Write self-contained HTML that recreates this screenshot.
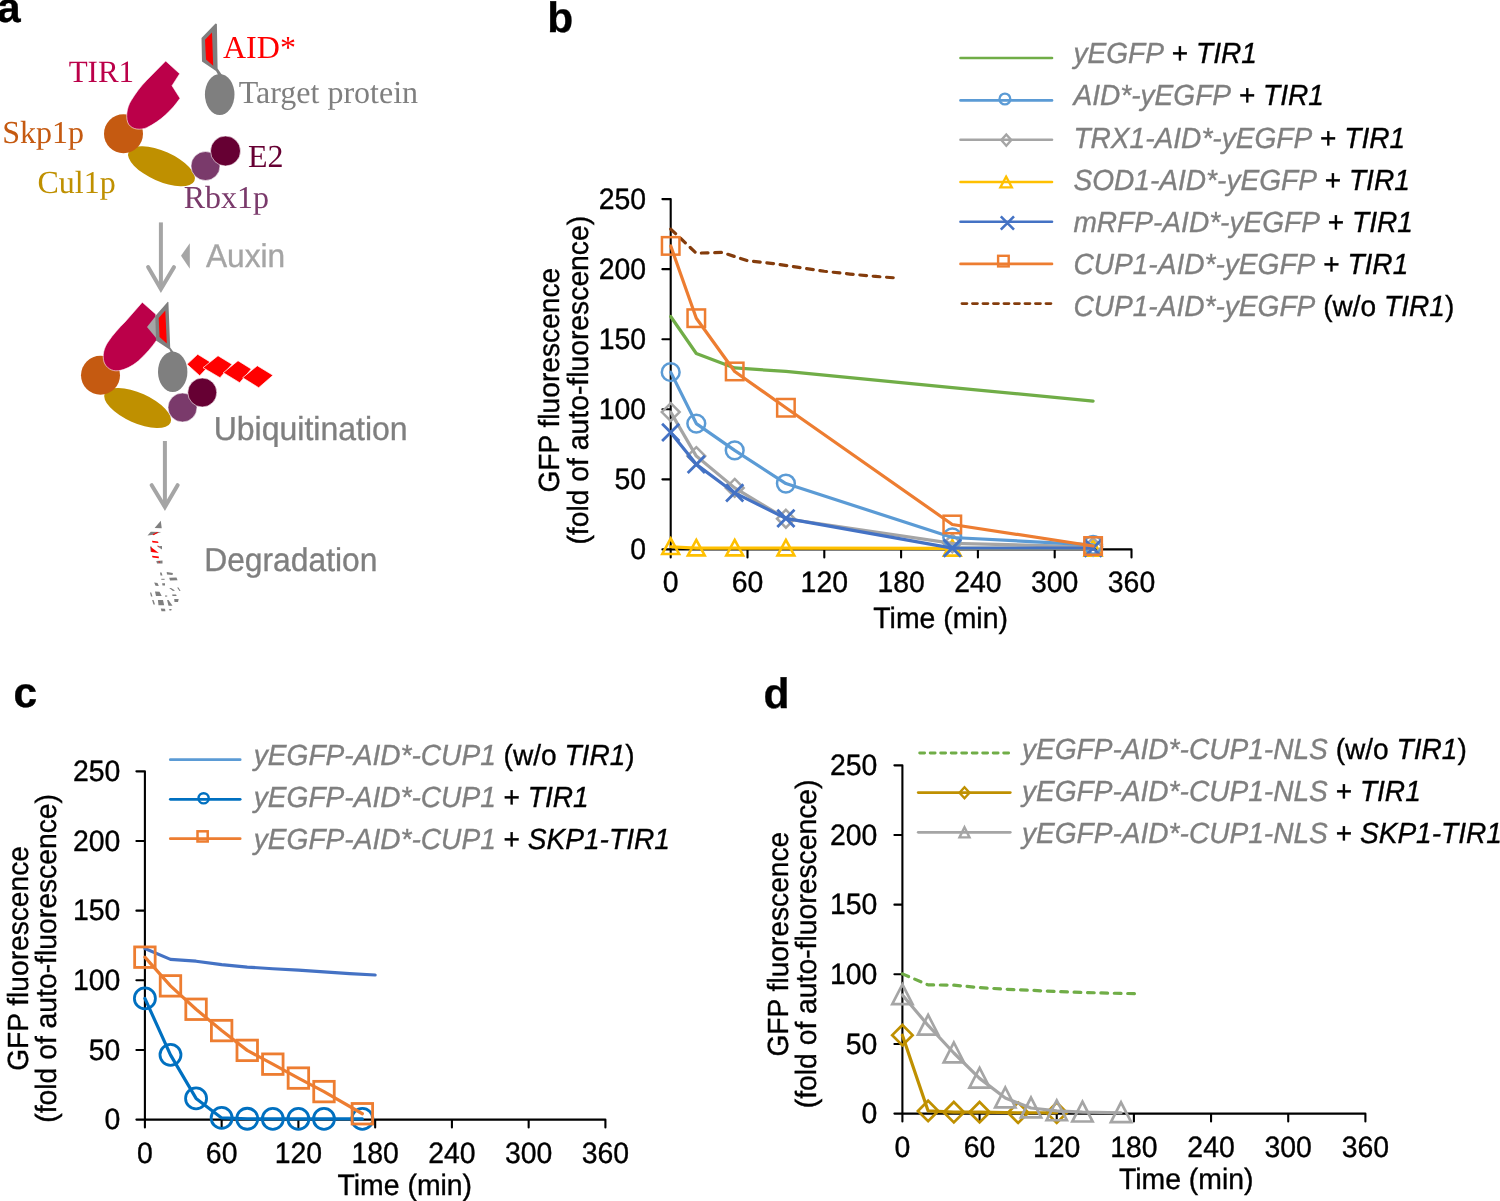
<!DOCTYPE html>
<html><head><meta charset="utf-8"><title>Figure</title>
<style>html,body{margin:0;padding:0;background:#fff;overflow:hidden;width:1500px;height:1201px;} svg{display:block;will-change:transform;} text{text-rendering:geometricPrecision;stroke-width:0.35px;}</style>
</head><body>
<svg width="1500" height="1201" viewBox="0 0 1500 1201">
<rect width="1500" height="1201" fill="#fff"/>
<text transform="translate(646.00,559.20) scale(1,1.035)" font-size="28.4" fill="#000" text-anchor="end" stroke="#000" font-family='"Liberation Sans", sans-serif'>0</text>
<text transform="translate(646.00,489.14) scale(1,1.035)" font-size="28.4" fill="#000" text-anchor="end" stroke="#000" font-family='"Liberation Sans", sans-serif'>50</text>
<text transform="translate(646.00,419.08) scale(1,1.035)" font-size="28.4" fill="#000" text-anchor="end" stroke="#000" font-family='"Liberation Sans", sans-serif'>100</text>
<text transform="translate(646.00,349.02) scale(1,1.035)" font-size="28.4" fill="#000" text-anchor="end" stroke="#000" font-family='"Liberation Sans", sans-serif'>150</text>
<text transform="translate(646.00,278.96) scale(1,1.035)" font-size="28.4" fill="#000" text-anchor="end" stroke="#000" font-family='"Liberation Sans", sans-serif'>200</text>
<text transform="translate(646.00,208.90) scale(1,1.035)" font-size="28.4" fill="#000" text-anchor="end" stroke="#000" font-family='"Liberation Sans", sans-serif'>250</text>
<text transform="translate(670.70,592.40) scale(1,1.035)" font-size="28.4" fill="#000" text-anchor="middle" stroke="#000" font-family='"Liberation Sans", sans-serif'>0</text>
<text transform="translate(747.50,592.40) scale(1,1.035)" font-size="28.4" fill="#000" text-anchor="middle" stroke="#000" font-family='"Liberation Sans", sans-serif'>60</text>
<text transform="translate(824.30,592.40) scale(1,1.035)" font-size="28.4" fill="#000" text-anchor="middle" stroke="#000" font-family='"Liberation Sans", sans-serif'>120</text>
<text transform="translate(901.10,592.40) scale(1,1.035)" font-size="28.4" fill="#000" text-anchor="middle" stroke="#000" font-family='"Liberation Sans", sans-serif'>180</text>
<text transform="translate(977.90,592.40) scale(1,1.035)" font-size="28.4" fill="#000" text-anchor="middle" stroke="#000" font-family='"Liberation Sans", sans-serif'>240</text>
<text transform="translate(1054.70,592.40) scale(1,1.035)" font-size="28.4" fill="#000" text-anchor="middle" stroke="#000" font-family='"Liberation Sans", sans-serif'>300</text>
<text transform="translate(1131.50,592.40) scale(1,1.035)" font-size="28.4" fill="#000" text-anchor="middle" stroke="#000" font-family='"Liberation Sans", sans-serif'>360</text>
<path d="M662.40,199.10H670.70V549.40M662.40,549.40H1131.50V557.40M662.40,479.34H670.70M662.40,409.28H670.70M662.40,339.22H670.70M662.40,269.16H670.70M670.70,549.40V557.40M747.50,549.40V557.40M824.30,549.40V557.40M901.10,549.40V557.40M977.90,549.40V557.40M1054.70,549.40V557.40" stroke="#000" stroke-width="2.1" stroke-linecap="round" stroke-linejoin="round" fill="none"/>
<text transform="translate(559.40,380.25) rotate(-90) scale(1,1.035)" stroke="#000" font-size="28.15" text-anchor="middle" font-family='"Liberation Sans", sans-serif'>GFP fluorescence</text><text transform="translate(587.60,380.20) rotate(-90) scale(1,1.035)" stroke="#000" font-size="28.3" text-anchor="middle" font-family='"Liberation Sans", sans-serif'>(fold of auto-fluorescence)</text>
<text transform="translate(873.30,627.90) scale(1,1.035)" font-size="28.4" fill="#000" stroke="#000" font-family='"Liberation Sans", sans-serif'>Time (min)</text>
<polyline points="670.70,316.52 696.30,353.51 734.70,367.94 785.90,371.45 952.30,387.56 1093.10,401.15" fill="none" stroke="#70AD47" stroke-width="3.2" stroke-linejoin="round" stroke-linecap="round"/>
<polyline points="670.70,229.09 696.30,253.19 721.90,252.35 747.50,260.75 773.10,263.56 798.70,267.34 824.30,271.26 849.90,274.06 875.50,276.45 898.54,278.13" fill="none" stroke="#843C0C" stroke-width="3.2" stroke-linejoin="round" stroke-linecap="round" stroke-dasharray="6.7,6.7"/>
<polyline points="670.70,546.74 696.30,548.14 734.70,548.14 785.90,548.14 952.30,548.42 1093.10,548.42" fill="none" stroke="#FFC000" stroke-width="3.2" stroke-linejoin="round" stroke-linecap="round"/>
<polygon points="670.70,538.49 679.10,553.99 662.30,553.99" fill="none" stroke="#FFC000" stroke-width="2.6" stroke-linejoin="miter"/>
<polygon points="696.30,539.89 704.70,555.39 687.90,555.39" fill="none" stroke="#FFC000" stroke-width="2.6" stroke-linejoin="miter"/>
<polygon points="734.70,539.89 743.10,555.39 726.30,555.39" fill="none" stroke="#FFC000" stroke-width="2.6" stroke-linejoin="miter"/>
<polygon points="785.90,539.89 794.30,555.39 777.50,555.39" fill="none" stroke="#FFC000" stroke-width="2.6" stroke-linejoin="miter"/>
<polygon points="952.30,540.17 960.70,555.67 943.90,555.67" fill="none" stroke="#FFC000" stroke-width="2.6" stroke-linejoin="miter"/>
<polygon points="1093.10,540.17 1101.50,555.67 1084.70,555.67" fill="none" stroke="#FFC000" stroke-width="2.6" stroke-linejoin="miter"/>
<polyline points="670.70,412.08 696.30,456.08 734.70,487.89 785.90,518.71 952.30,543.37 1093.10,546.74" fill="none" stroke="#A5A5A5" stroke-width="3.2" stroke-linejoin="round" stroke-linecap="round"/>
<polygon points="670.70,403.18 679.60,412.08 670.70,420.98 661.80,412.08" fill="none" stroke="#A5A5A5" stroke-width="2.5" stroke-linejoin="miter"/>
<polygon points="696.30,447.18 705.20,456.08 696.30,464.98 687.40,456.08" fill="none" stroke="#A5A5A5" stroke-width="2.5" stroke-linejoin="miter"/>
<polygon points="734.70,478.99 743.60,487.89 734.70,496.79 725.80,487.89" fill="none" stroke="#A5A5A5" stroke-width="2.5" stroke-linejoin="miter"/>
<polygon points="785.90,509.81 794.80,518.71 785.90,527.61 777.00,518.71" fill="none" stroke="#A5A5A5" stroke-width="2.5" stroke-linejoin="miter"/>
<polygon points="952.30,534.47 961.20,543.37 952.30,552.27 943.40,543.37" fill="none" stroke="#A5A5A5" stroke-width="2.5" stroke-linejoin="miter"/>
<polygon points="1093.10,537.84 1102.00,546.74 1093.10,555.64 1084.20,546.74" fill="none" stroke="#A5A5A5" stroke-width="2.5" stroke-linejoin="miter"/>
<polyline points="670.70,372.15 696.30,423.57 734.70,450.34 785.90,483.54 952.30,537.49 1093.10,544.78" fill="none" stroke="#5B9BD5" stroke-width="3.2" stroke-linejoin="round" stroke-linecap="round"/>
<circle cx="670.70" cy="372.15" r="8.9" fill="none" stroke="#5B9BD5" stroke-width="2.5"/>
<circle cx="696.30" cy="423.57" r="8.9" fill="none" stroke="#5B9BD5" stroke-width="2.5"/>
<circle cx="734.70" cy="450.34" r="8.9" fill="none" stroke="#5B9BD5" stroke-width="2.5"/>
<circle cx="785.90" cy="483.54" r="8.9" fill="none" stroke="#5B9BD5" stroke-width="2.5"/>
<circle cx="952.30" cy="537.49" r="8.9" fill="none" stroke="#5B9BD5" stroke-width="2.5"/>
<circle cx="1093.10" cy="544.78" r="8.9" fill="none" stroke="#5B9BD5" stroke-width="2.5"/>
<polyline points="670.70,432.40 696.30,464.35 734.70,492.93 785.90,518.43 952.30,548.14 1093.10,548.14" fill="none" stroke="#4472C4" stroke-width="3.2" stroke-linejoin="round" stroke-linecap="round"/>
<path d="M662.10,423.80L679.30,441.00M662.10,441.00L679.30,423.80" stroke="#4472C4" stroke-width="2.8" fill="none"/>
<path d="M687.70,455.75L704.90,472.95M687.70,472.95L704.90,455.75" stroke="#4472C4" stroke-width="2.8" fill="none"/>
<path d="M726.10,484.33L743.30,501.53M726.10,501.53L743.30,484.33" stroke="#4472C4" stroke-width="2.8" fill="none"/>
<path d="M777.30,509.83L794.50,527.03M777.30,527.03L794.50,509.83" stroke="#4472C4" stroke-width="2.8" fill="none"/>
<path d="M943.70,539.54L960.90,556.74M943.70,556.74L960.90,539.54" stroke="#4472C4" stroke-width="2.8" fill="none"/>
<path d="M1084.50,539.54L1101.70,556.74M1084.50,556.74L1101.70,539.54" stroke="#4472C4" stroke-width="2.8" fill="none"/>
<polyline points="670.70,245.90 696.30,318.20 734.70,371.45 785.90,407.74 952.30,524.46 1093.10,546.04" fill="none" stroke="#ED7D31" stroke-width="3.2" stroke-linejoin="round" stroke-linecap="round"/>
<rect x="661.95" y="237.15" width="17.5" height="17.5" fill="none" stroke="#ED7D31" stroke-width="2.5"/>
<rect x="687.55" y="309.45" width="17.5" height="17.5" fill="none" stroke="#ED7D31" stroke-width="2.5"/>
<rect x="725.95" y="362.70" width="17.5" height="17.5" fill="none" stroke="#ED7D31" stroke-width="2.5"/>
<rect x="777.15" y="398.99" width="17.5" height="17.5" fill="none" stroke="#ED7D31" stroke-width="2.5"/>
<rect x="943.55" y="515.71" width="17.5" height="17.5" fill="none" stroke="#ED7D31" stroke-width="2.5"/>
<rect x="1084.35" y="537.29" width="17.5" height="17.5" fill="none" stroke="#ED7D31" stroke-width="2.5"/>
<path d="M960.5,58.0H1052.0" stroke="#70AD47" stroke-width="2.6" stroke-linecap="round" fill="none"/>
<text transform="translate(1073.40,63.20) scale(1,1.035)" font-size="28.1" fill="#000" stroke="#000" font-family='"Liberation Sans", sans-serif' xml:space="preserve"><tspan font-style="italic" fill="#7F7F7F" stroke="#7F7F7F">yEGFP</tspan><tspan> + </tspan><tspan font-style="italic">TIR1</tspan></text>
<path d="M960.5,100.4H1052.0" stroke="#5B9BD5" stroke-width="2.6" stroke-linecap="round" fill="none"/>
<circle cx="1004.90" cy="99.00" r="5.4" fill="none" stroke="#5B9BD5" stroke-width="2.3"/>
<text transform="translate(1073.40,105.20) scale(1,1.035)" font-size="28.1" fill="#000" stroke="#000" font-family='"Liberation Sans", sans-serif' xml:space="preserve"><tspan font-style="italic" fill="#7F7F7F" stroke="#7F7F7F">AID*-yEGFP</tspan><tspan> + </tspan><tspan font-style="italic">TIR1</tspan></text>
<path d="M960.5,139.7H1052.0" stroke="#A5A5A5" stroke-width="2.6" stroke-linecap="round" fill="none"/>
<polygon points="1006.30,134.50 1011.30,140.10 1006.30,145.70 1001.30,140.10" fill="none" stroke="#A5A5A5" stroke-width="2.4" stroke-linejoin="miter"/>
<text transform="translate(1073.40,147.50) scale(1,1.035)" font-size="28.1" fill="#000" stroke="#000" font-family='"Liberation Sans", sans-serif' xml:space="preserve"><tspan font-style="italic" fill="#7F7F7F" stroke="#7F7F7F">TRX1-AID*-yEGFP</tspan><tspan> + </tspan><tspan font-style="italic">TIR1</tspan></text>
<path d="M960.5,182.0H1052.0" stroke="#FFC000" stroke-width="2.6" stroke-linecap="round" fill="none"/>
<polygon points="1006.10,176.60 1011.85,187.40 1000.35,187.40" fill="none" stroke="#FFC000" stroke-width="2.3" stroke-linejoin="miter"/>
<text transform="translate(1073.40,189.60) scale(1,1.035)" font-size="28.1" fill="#000" stroke="#000" font-family='"Liberation Sans", sans-serif' xml:space="preserve"><tspan font-style="italic" fill="#7F7F7F" stroke="#7F7F7F">SOD1-AID*-yEGFP</tspan><tspan> + </tspan><tspan font-style="italic">TIR1</tspan></text>
<path d="M960.5,221.7H1052.0" stroke="#4472C4" stroke-width="2.6" stroke-linecap="round" fill="none"/>
<path d="M1000.80,216.40L1014.00,229.60M1000.80,229.60L1014.00,216.40" stroke="#4472C4" stroke-width="2.6" fill="none"/>
<text transform="translate(1073.40,232.00) scale(1,1.035)" font-size="28.1" fill="#000" stroke="#000" font-family='"Liberation Sans", sans-serif' xml:space="preserve"><tspan font-style="italic" fill="#7F7F7F" stroke="#7F7F7F">mRFP-AID*-yEGFP</tspan><tspan> + </tspan><tspan font-style="italic">TIR1</tspan></text>
<path d="M960.5,263.9H1052.0" stroke="#ED7D31" stroke-width="2.6" stroke-linecap="round" fill="none"/>
<rect x="998.10" y="255.80" width="10.6" height="10.6" fill="none" stroke="#ED7D31" stroke-width="2.4"/>
<text transform="translate(1073.40,273.80) scale(1,1.035)" font-size="28.1" fill="#000" stroke="#000" font-family='"Liberation Sans", sans-serif' xml:space="preserve"><tspan font-style="italic" fill="#7F7F7F" stroke="#7F7F7F">CUP1-AID*-yEGFP</tspan><tspan> + </tspan><tspan font-style="italic">TIR1</tspan></text>
<path d="M962.0,303.6H1052.0" stroke="#843C0C" stroke-width="2.9" stroke-linecap="round" stroke-dasharray="4.9,5.6" fill="none"/>
<text transform="translate(1073.40,315.80) scale(1,1.035)" font-size="28.1" fill="#000" stroke="#000" font-family='"Liberation Sans", sans-serif' xml:space="preserve"><tspan font-style="italic" fill="#7F7F7F" stroke="#7F7F7F">CUP1-AID*-yEGFP</tspan><tspan> (w/o </tspan><tspan font-style="italic">TIR1</tspan><tspan>)</tspan></text>
<text transform="translate(120.30,1129.40) scale(1,1.035)" font-size="28.4" fill="#000" text-anchor="end" stroke="#000" font-family='"Liberation Sans", sans-serif'>0</text>
<text transform="translate(120.30,1059.75) scale(1,1.035)" font-size="28.4" fill="#000" text-anchor="end" stroke="#000" font-family='"Liberation Sans", sans-serif'>50</text>
<text transform="translate(120.30,990.10) scale(1,1.035)" font-size="28.4" fill="#000" text-anchor="end" stroke="#000" font-family='"Liberation Sans", sans-serif'>100</text>
<text transform="translate(120.30,920.45) scale(1,1.035)" font-size="28.4" fill="#000" text-anchor="end" stroke="#000" font-family='"Liberation Sans", sans-serif'>150</text>
<text transform="translate(120.30,850.80) scale(1,1.035)" font-size="28.4" fill="#000" text-anchor="end" stroke="#000" font-family='"Liberation Sans", sans-serif'>200</text>
<text transform="translate(120.30,781.15) scale(1,1.035)" font-size="28.4" fill="#000" text-anchor="end" stroke="#000" font-family='"Liberation Sans", sans-serif'>250</text>
<text transform="translate(144.90,1162.60) scale(1,1.035)" font-size="28.4" fill="#000" text-anchor="middle" stroke="#000" font-family='"Liberation Sans", sans-serif'>0</text>
<text transform="translate(221.65,1162.60) scale(1,1.035)" font-size="28.4" fill="#000" text-anchor="middle" stroke="#000" font-family='"Liberation Sans", sans-serif'>60</text>
<text transform="translate(298.40,1162.60) scale(1,1.035)" font-size="28.4" fill="#000" text-anchor="middle" stroke="#000" font-family='"Liberation Sans", sans-serif'>120</text>
<text transform="translate(375.16,1162.60) scale(1,1.035)" font-size="28.4" fill="#000" text-anchor="middle" stroke="#000" font-family='"Liberation Sans", sans-serif'>180</text>
<text transform="translate(451.91,1162.60) scale(1,1.035)" font-size="28.4" fill="#000" text-anchor="middle" stroke="#000" font-family='"Liberation Sans", sans-serif'>240</text>
<text transform="translate(528.66,1162.60) scale(1,1.035)" font-size="28.4" fill="#000" text-anchor="middle" stroke="#000" font-family='"Liberation Sans", sans-serif'>300</text>
<text transform="translate(605.41,1162.60) scale(1,1.035)" font-size="28.4" fill="#000" text-anchor="middle" stroke="#000" font-family='"Liberation Sans", sans-serif'>360</text>
<path d="M136.40,771.35H144.90V1119.60M136.40,1119.60H605.41V1127.40M136.40,1049.95H144.90M136.40,980.30H144.90M136.40,910.65H144.90M136.40,841.00H144.90M144.90,1119.60V1127.40M221.65,1119.60V1127.40M298.40,1119.60V1127.40M375.16,1119.60V1127.40M451.91,1119.60V1127.40M528.66,1119.60V1127.40" stroke="#000" stroke-width="2.1" stroke-linecap="round" stroke-linejoin="round" fill="none"/>
<text transform="translate(28.10,958.50) rotate(-90) scale(1,1.035)" stroke="#000" font-size="28.15" text-anchor="middle" font-family='"Liberation Sans", sans-serif'>GFP fluorescence</text><text transform="translate(56.00,958.40) rotate(-90) scale(1,1.035)" stroke="#000" font-size="28.3" text-anchor="middle" font-family='"Liberation Sans", sans-serif'>(fold of auto-fluorescence)</text>
<text transform="translate(337.50,1195.00) scale(1,1.035)" font-size="28.4" fill="#000" stroke="#000" font-family='"Liberation Sans", sans-serif'>Time (min)</text>
<polyline points="144.90,948.54 170.48,959.40 196.07,961.22 221.65,964.56 247.24,967.07 272.82,968.74 298.40,970.13 323.99,971.94 349.57,973.61 375.16,975.01" fill="none" stroke="#4472C4" stroke-width="3.2" stroke-linejoin="round" stroke-linecap="round"/>
<polyline points="144.90,998.41 170.48,1054.83 196.07,1098.43 221.65,1117.93 247.24,1118.76 272.82,1118.90 298.40,1118.90 323.99,1118.90 362.36,1118.90" fill="none" stroke="#0070C0" stroke-width="3.2" stroke-linejoin="round" stroke-linecap="round"/>
<circle cx="144.90" cy="998.41" r="10.5" fill="none" stroke="#0070C0" stroke-width="2.8"/>
<circle cx="170.48" cy="1054.83" r="10.5" fill="none" stroke="#0070C0" stroke-width="2.8"/>
<circle cx="196.07" cy="1098.43" r="10.5" fill="none" stroke="#0070C0" stroke-width="2.8"/>
<circle cx="221.65" cy="1117.93" r="10.5" fill="none" stroke="#0070C0" stroke-width="2.8"/>
<circle cx="247.24" cy="1118.76" r="10.5" fill="none" stroke="#0070C0" stroke-width="2.8"/>
<circle cx="272.82" cy="1118.90" r="10.5" fill="none" stroke="#0070C0" stroke-width="2.8"/>
<circle cx="298.40" cy="1118.90" r="10.5" fill="none" stroke="#0070C0" stroke-width="2.8"/>
<circle cx="323.99" cy="1118.90" r="10.5" fill="none" stroke="#0070C0" stroke-width="2.8"/>
<circle cx="362.36" cy="1118.90" r="10.5" fill="none" stroke="#0070C0" stroke-width="2.8"/>
<polyline points="144.90,957.18 170.48,985.87 196.07,1009.27 221.65,1030.59 247.24,1050.37 272.82,1064.16 298.40,1078.09 323.99,1091.60 362.36,1113.75" fill="none" stroke="#ED7D31" stroke-width="3.2" stroke-linejoin="round" stroke-linecap="round"/>
<rect x="134.65" y="946.93" width="20.5" height="20.5" fill="none" stroke="#ED7D31" stroke-width="2.8"/>
<rect x="160.23" y="975.62" width="20.5" height="20.5" fill="none" stroke="#ED7D31" stroke-width="2.8"/>
<rect x="185.82" y="999.02" width="20.5" height="20.5" fill="none" stroke="#ED7D31" stroke-width="2.8"/>
<rect x="211.40" y="1020.34" width="20.5" height="20.5" fill="none" stroke="#ED7D31" stroke-width="2.8"/>
<rect x="236.99" y="1040.12" width="20.5" height="20.5" fill="none" stroke="#ED7D31" stroke-width="2.8"/>
<rect x="262.57" y="1053.91" width="20.5" height="20.5" fill="none" stroke="#ED7D31" stroke-width="2.8"/>
<rect x="288.15" y="1067.84" width="20.5" height="20.5" fill="none" stroke="#ED7D31" stroke-width="2.8"/>
<rect x="313.74" y="1081.35" width="20.5" height="20.5" fill="none" stroke="#ED7D31" stroke-width="2.8"/>
<rect x="352.11" y="1103.50" width="20.5" height="20.5" fill="none" stroke="#ED7D31" stroke-width="2.8"/>
<path d="M170.3,759.7H240.2" stroke="#5B9BD5" stroke-width="2.7" stroke-linecap="round" fill="none"/>
<text transform="translate(253.80,764.60) scale(1,1.035)" font-size="28.1" fill="#000" stroke="#000" font-family='"Liberation Sans", sans-serif' xml:space="preserve"><tspan font-style="italic" fill="#7F7F7F" stroke="#7F7F7F">yEGFP-AID*-CUP1</tspan><tspan> (w/o </tspan><tspan font-style="italic">TIR1</tspan><tspan>)</tspan></text>
<path d="M170.3,799.3H240.2" stroke="#0070C0" stroke-width="2.7" stroke-linecap="round" fill="none"/>
<circle cx="203.60" cy="798.30" r="5.1" fill="none" stroke="#0070C0" stroke-width="2.4"/>
<text transform="translate(253.80,806.80) scale(1,1.035)" font-size="28.1" fill="#000" stroke="#000" font-family='"Liberation Sans", sans-serif' xml:space="preserve"><tspan font-style="italic" fill="#7F7F7F" stroke="#7F7F7F">yEGFP-AID*-CUP1</tspan><tspan> + </tspan><tspan font-style="italic">TIR1</tspan></text>
<path d="M170.3,838.7H240.2" stroke="#ED7D31" stroke-width="2.7" stroke-linecap="round" fill="none"/>
<rect x="197.50" y="831.30" width="10.2" height="10.2" fill="none" stroke="#ED7D31" stroke-width="2.5"/>
<text transform="translate(253.80,849.00) scale(1,1.035)" font-size="28.1" fill="#000" stroke="#000" font-family='"Liberation Sans", sans-serif' xml:space="preserve"><tspan font-style="italic" fill="#7F7F7F" stroke="#7F7F7F">yEGFP-AID*-CUP1</tspan><tspan> + </tspan><tspan font-style="italic">SKP1-TIR1</tspan></text>
<text transform="translate(877.30,1123.40) scale(1,1.035)" font-size="28.4" fill="#000" text-anchor="end" stroke="#000" font-family='"Liberation Sans", sans-serif'>0</text>
<text transform="translate(877.30,1053.75) scale(1,1.035)" font-size="28.4" fill="#000" text-anchor="end" stroke="#000" font-family='"Liberation Sans", sans-serif'>50</text>
<text transform="translate(877.30,984.10) scale(1,1.035)" font-size="28.4" fill="#000" text-anchor="end" stroke="#000" font-family='"Liberation Sans", sans-serif'>100</text>
<text transform="translate(877.30,914.45) scale(1,1.035)" font-size="28.4" fill="#000" text-anchor="end" stroke="#000" font-family='"Liberation Sans", sans-serif'>150</text>
<text transform="translate(877.30,844.80) scale(1,1.035)" font-size="28.4" fill="#000" text-anchor="end" stroke="#000" font-family='"Liberation Sans", sans-serif'>200</text>
<text transform="translate(877.30,775.15) scale(1,1.035)" font-size="28.4" fill="#000" text-anchor="end" stroke="#000" font-family='"Liberation Sans", sans-serif'>250</text>
<text transform="translate(902.40,1156.60) scale(1,1.035)" font-size="28.4" fill="#000" text-anchor="middle" stroke="#000" font-family='"Liberation Sans", sans-serif'>0</text>
<text transform="translate(979.57,1156.60) scale(1,1.035)" font-size="28.4" fill="#000" text-anchor="middle" stroke="#000" font-family='"Liberation Sans", sans-serif'>60</text>
<text transform="translate(1056.73,1156.60) scale(1,1.035)" font-size="28.4" fill="#000" text-anchor="middle" stroke="#000" font-family='"Liberation Sans", sans-serif'>120</text>
<text transform="translate(1133.90,1156.60) scale(1,1.035)" font-size="28.4" fill="#000" text-anchor="middle" stroke="#000" font-family='"Liberation Sans", sans-serif'>180</text>
<text transform="translate(1211.06,1156.60) scale(1,1.035)" font-size="28.4" fill="#000" text-anchor="middle" stroke="#000" font-family='"Liberation Sans", sans-serif'>240</text>
<text transform="translate(1288.23,1156.60) scale(1,1.035)" font-size="28.4" fill="#000" text-anchor="middle" stroke="#000" font-family='"Liberation Sans", sans-serif'>300</text>
<text transform="translate(1365.40,1156.60) scale(1,1.035)" font-size="28.4" fill="#000" text-anchor="middle" stroke="#000" font-family='"Liberation Sans", sans-serif'>360</text>
<path d="M894.40,765.35H902.40V1113.60M894.40,1113.60H1365.40V1121.50M894.40,1043.95H902.40M894.40,974.30H902.40M894.40,904.65H902.40M894.40,835.00H902.40M902.40,1113.60V1121.50M979.57,1113.60V1121.50M1056.73,1113.60V1121.50M1133.90,1113.60V1121.50M1211.06,1113.60V1121.50M1288.23,1113.60V1121.50" stroke="#000" stroke-width="2.1" stroke-linecap="round" stroke-linejoin="round" fill="none"/>
<text transform="translate(788.20,944.20) rotate(-90) scale(1,1.035)" stroke="#000" font-size="28.15" text-anchor="middle" font-family='"Liberation Sans", sans-serif'>GFP fluorescence</text><text transform="translate(816.00,943.90) rotate(-90) scale(1,1.035)" stroke="#000" font-size="28.3" text-anchor="middle" font-family='"Liberation Sans", sans-serif'>(fold of auto-fluorescence)</text>
<text transform="translate(1118.90,1188.90) scale(1,1.035)" font-size="28.4" fill="#000" stroke="#000" font-family='"Liberation Sans", sans-serif'>Time (min)</text>
<polyline points="902.40,973.88 928.12,984.89 953.84,985.17 979.57,987.67 1005.29,989.21 1031.01,990.32 1056.73,991.57 1082.45,992.41 1108.18,993.11 1135.18,993.66" fill="none" stroke="#70AD47" stroke-width="3.2" stroke-linejoin="round" stroke-linecap="round" stroke-dasharray="6.7,6.7"/>
<polyline points="902.40,1035.17 928.12,1110.95 953.84,1112.21 979.57,1112.21 1018.15,1112.76 1056.73,1112.76" fill="none" stroke="#BF9000" stroke-width="3.2" stroke-linejoin="round" stroke-linecap="round"/>
<polygon points="902.40,1024.97 912.60,1035.17 902.40,1045.37 892.20,1035.17" fill="none" stroke="#BF9000" stroke-width="2.7" stroke-linejoin="miter"/>
<polygon points="928.12,1100.75 938.32,1110.95 928.12,1121.15 917.92,1110.95" fill="none" stroke="#BF9000" stroke-width="2.7" stroke-linejoin="miter"/>
<polygon points="953.84,1102.01 964.04,1112.21 953.84,1122.41 943.64,1112.21" fill="none" stroke="#BF9000" stroke-width="2.7" stroke-linejoin="miter"/>
<polygon points="979.57,1102.01 989.77,1112.21 979.57,1122.41 969.37,1112.21" fill="none" stroke="#BF9000" stroke-width="2.7" stroke-linejoin="miter"/>
<polygon points="1018.15,1102.56 1028.35,1112.76 1018.15,1122.96 1007.95,1112.76" fill="none" stroke="#BF9000" stroke-width="2.7" stroke-linejoin="miter"/>
<polygon points="1056.73,1102.56 1066.93,1112.76 1056.73,1122.96 1046.53,1112.76" fill="none" stroke="#BF9000" stroke-width="2.7" stroke-linejoin="miter"/>
<polyline points="902.40,994.92 928.12,1025.42 953.84,1053.00 979.57,1078.36 1005.29,1098.00 1031.01,1108.03 1056.73,1110.95 1082.45,1112.21 1121.04,1112.76" fill="none" stroke="#A5A5A5" stroke-width="3.2" stroke-linejoin="round" stroke-linecap="round"/>
<polygon points="902.40,984.42 912.55,1004.22 892.25,1004.22" fill="none" stroke="#A5A5A5" stroke-width="2.7" stroke-linejoin="miter"/>
<polygon points="928.12,1014.92 938.27,1034.72 917.97,1034.72" fill="none" stroke="#A5A5A5" stroke-width="2.7" stroke-linejoin="miter"/>
<polygon points="953.84,1042.50 963.99,1062.30 943.69,1062.30" fill="none" stroke="#A5A5A5" stroke-width="2.7" stroke-linejoin="miter"/>
<polygon points="979.57,1067.86 989.72,1087.66 969.42,1087.66" fill="none" stroke="#A5A5A5" stroke-width="2.7" stroke-linejoin="miter"/>
<polygon points="1005.29,1087.50 1015.44,1107.30 995.14,1107.30" fill="none" stroke="#A5A5A5" stroke-width="2.7" stroke-linejoin="miter"/>
<polygon points="1031.01,1097.53 1041.16,1117.33 1020.86,1117.33" fill="none" stroke="#A5A5A5" stroke-width="2.7" stroke-linejoin="miter"/>
<polygon points="1056.73,1100.45 1066.88,1120.25 1046.58,1120.25" fill="none" stroke="#A5A5A5" stroke-width="2.7" stroke-linejoin="miter"/>
<polygon points="1082.45,1101.71 1092.60,1121.51 1072.30,1121.51" fill="none" stroke="#A5A5A5" stroke-width="2.7" stroke-linejoin="miter"/>
<polygon points="1121.04,1102.26 1131.19,1122.06 1110.89,1122.06" fill="none" stroke="#A5A5A5" stroke-width="2.7" stroke-linejoin="miter"/>
<path d="M919.7,753.0H1010.3" stroke="#70AD47" stroke-width="2.9" stroke-linecap="round" stroke-dasharray="4.9,5.6" fill="none"/>
<text transform="translate(1021.90,759.00) scale(1,1.035)" font-size="28.1" fill="#000" stroke="#000" font-family='"Liberation Sans", sans-serif' xml:space="preserve"><tspan font-style="italic" fill="#7F7F7F" stroke="#7F7F7F">yEGFP-AID*-CUP1-NLS</tspan><tspan> (w/o </tspan><tspan font-style="italic">TIR1</tspan><tspan>)</tspan></text>
<path d="M918.2,792.6H1010.3" stroke="#BF9000" stroke-width="2.7" stroke-linecap="round" fill="none"/>
<polygon points="964.50,787.30 969.50,792.80 964.50,798.30 959.50,792.80" fill="none" stroke="#BF9000" stroke-width="2.4" stroke-linejoin="miter"/>
<text transform="translate(1021.90,801.20) scale(1,1.035)" font-size="28.1" fill="#000" stroke="#000" font-family='"Liberation Sans", sans-serif' xml:space="preserve"><tspan font-style="italic" fill="#7F7F7F" stroke="#7F7F7F">yEGFP-AID*-CUP1-NLS</tspan><tspan> + </tspan><tspan font-style="italic">TIR1</tspan></text>
<path d="M918.2,832.3H1010.3" stroke="#A5A5A5" stroke-width="2.7" stroke-linecap="round" fill="none"/>
<polygon points="964.50,827.20 969.50,837.40 959.50,837.40" fill="none" stroke="#A5A5A5" stroke-width="2.4" stroke-linejoin="miter"/>
<text transform="translate(1021.90,843.40) scale(1,1.035)" font-size="28.1" fill="#000" stroke="#000" font-family='"Liberation Sans", sans-serif' xml:space="preserve"><tspan font-style="italic" fill="#7F7F7F" stroke="#7F7F7F">yEGFP-AID*-CUP1-NLS</tspan><tspan> + </tspan><tspan font-style="italic">SKP1-TIR1</tspan></text>
<text x="-3.00" y="22.00" font-size="42.5" fill="#000" stroke="#000" font-family='"Liberation Sans", sans-serif' font-weight="bold">a</text>
<text x="547.20" y="31.60" font-size="42.5" fill="#000" stroke="#000" font-family='"Liberation Sans", sans-serif' font-weight="bold">b</text>
<text x="13.50" y="707.20" font-size="42.5" fill="#000" stroke="#000" font-family='"Liberation Sans", sans-serif' font-weight="bold">c</text>
<text x="763.50" y="708.00" font-size="42.5" fill="#000" stroke="#000" font-family='"Liberation Sans", sans-serif' font-weight="bold">d</text>
<ellipse cx="161.5" cy="166.3" rx="36" ry="15" transform="rotate(24 161.5 166.3)" fill="#BF9000"/>
<circle cx="123.5" cy="133.7" r="19.5" fill="#C55A11"/>
<path d="M165.7,61 L179.7,73.7 L172,85.7 L180,98.3 C172,110 160,121.5 146.7,127.7 C140.5,130.3 132.5,129.8 128.7,124.3 C125.3,119 126.3,108 131.3,100.3 C135.5,93.5 140.5,86.5 146.7,80.3 Z" fill="#BB0049" stroke="#fff" stroke-width="0.6"/>
<circle cx="205.5" cy="166" r="14.5" fill="#7A3A6B" stroke="#fff" stroke-width="0.6"/>
<circle cx="225.5" cy="151" r="15" fill="#660033" stroke="#fff" stroke-width="0.6"/>
<ellipse cx="219.7" cy="94.5" rx="14.8" ry="20.5" fill="#7F7F7F"/>
<polygon points="215.5,23.5 201.5,38 202,61.5 216,71 219,76.5 222,75 217.6,68.5 216.9,24" fill="#7F7F7F"/>
<polygon points="212,32.5 205,39.8 206,59.4 213.2,65.8" fill="#FF0000"/>
<text x="223.00" y="57.80" font-size="32" fill="#FF0000" font-family='"Liberation Serif", serif'>AID*</text>
<text x="68.70" y="82.20" font-size="31" fill="#BB0049" font-family='"Liberation Serif", serif'>TIR1</text>
<text x="2.20" y="142.50" font-size="32" fill="#C55A11" font-family='"Liberation Serif", serif'>Skp1p</text>
<text x="37.40" y="192.50" font-size="32" fill="#BF9000" font-family='"Liberation Serif", serif'>Cul1p</text>
<text x="238.70" y="103.30" font-size="32" fill="#7F7F7F" font-family='"Liberation Serif", serif'>Target protein</text>
<text x="247.90" y="167.10" font-size="32" fill="#660033" font-family='"Liberation Serif", serif'>E2</text>
<text x="183.70" y="208.20" font-size="32" fill="#7A3A6B" font-family='"Liberation Serif", serif'>Rbx1p</text>
<path d="M160.9,222.4V289" stroke="#A5A5A5" stroke-width="4" fill="none"/>
<path d="M148.1,267.1L160.9,289L174,267.1" stroke="#A5A5A5" stroke-width="4" fill="none" stroke-linecap="round" stroke-linejoin="miter"/>
<polygon points="181,255.8 189.8,243.3 189.8,268.8" fill="#A5A5A5"/>
<text transform="translate(205.90,267.10) scale(1,1.035)" font-size="31.7" fill="#A5A5A5" stroke="#A5A5A5" font-family='"Liberation Sans", sans-serif'>Auxin</text>
<ellipse cx="137.6" cy="408" rx="36" ry="15" transform="rotate(24 137.6 408)" fill="#BF9000"/>
<circle cx="100.5" cy="375.3" r="19.5" fill="#C55A11"/>
<path d="M142.3,302.3 L155.8,314.2 L157,339.7 C152,347 146,354 138.3,361 C131.5,366.5 125,369.8 118.3,370.7 C111.5,371.6 106,367.5 104,362 C102,355 104,348 108,342 C113,334.5 119,328 125,322 Z" fill="#BB0049" stroke="#fff" stroke-width="0.6"/>
<polygon points="147,327 156.5,315 156.5,338.4" fill="#A5A5A5"/>
<circle cx="182.5" cy="407.5" r="14.5" fill="#7A3A6B" stroke="#fff" stroke-width="0.6"/>
<circle cx="202.3" cy="392.5" r="14.5" fill="#660033" stroke="#fff" stroke-width="0.6"/>
<ellipse cx="172.7" cy="371.8" rx="14.7" ry="20.2" fill="#7F7F7F"/>
<polygon points="167.8,301.8 155.3,316 156,340.5 169.5,349.5 171,353 173.5,352 170.2,347.5 168.4,302" fill="#7F7F7F"/>
<polygon points="165.3,310.5 158.7,317.9 159.5,337 166.8,343.5" fill="#FF0000"/>
<polygon points="197.70,354.30 211.70,362.90 199.70,375.70 187.00,364.30" fill="#FF0000" stroke="#fff" stroke-width="0.7" stroke-linejoin="round"/>
<polygon points="218.00,355.70 232.00,364.30 220.00,377.70 203.00,367.70" fill="#FF0000" stroke="#fff" stroke-width="0.7" stroke-linejoin="round"/>
<polygon points="238.00,360.70 251.30,369.00 239.70,382.70 223.30,372.70" fill="#FF0000" stroke="#fff" stroke-width="0.7" stroke-linejoin="round"/>
<polygon points="257.30,365.70 273.00,375.30 258.70,387.70 242.70,377.70" fill="#FF0000" stroke="#fff" stroke-width="0.7" stroke-linejoin="round"/>
<text transform="translate(213.70,439.50) scale(1,1.035)" font-size="32" fill="#7F7F7F" stroke="#7F7F7F" font-family='"Liberation Sans", sans-serif'>Ubiquitination</text>
<path d="M164.9,441V507" stroke="#A5A5A5" stroke-width="4" fill="none"/>
<path d="M151.7,485.2L164.9,507L177.6,485.2" stroke="#A5A5A5" stroke-width="4" fill="none" stroke-linecap="round" stroke-linejoin="miter"/>
<polygon points="154.60,527.90 160.80,520.80 161.70,528.30" fill="#7F7F7F"/>
<polygon points="147.50,535.40 150.80,531.70 161.20,532.10 153.30,534.80" fill="#7F7F7F"/>
<polygon points="157.00,546.30 162.00,546.00 162.00,549.50" fill="#7F7F7F"/>
<polygon points="150.00,546.50 151.50,546.50 152.00,552.00 150.80,552.00" fill="#7F7F7F"/>
<polygon points="156.30,561.00 162.50,560.50 162.50,563.50 157.00,563.50" fill="#7F7F7F"/>
<polygon points="166.70,572.00 172.90,573.00 172.50,575.00 167.00,574.50" fill="#7F7F7F"/>
<polygon points="160.00,572.50 161.50,572.50 162.50,575.50 160.50,575.50" fill="#7F7F7F"/>
<polygon points="169.20,577.80 176.50,577.50 177.50,580.20 170.00,580.50" fill="#7F7F7F"/>
<polygon points="161.30,578.80 164.60,578.80 164.60,579.80 161.30,579.80" fill="#7F7F7F"/>
<polygon points="154.20,582.60 157.50,583.00 158.80,586.00 155.50,585.80" fill="#7F7F7F"/>
<polygon points="162.10,583.30 165.00,583.30 165.00,585.50 162.50,585.50" fill="#7F7F7F"/>
<polygon points="169.20,588.00 171.00,588.00 175.00,590.50 173.00,591.00" fill="#7F7F7F"/>
<polygon points="177.10,587.50 178.50,587.50 180.60,591.00 179.50,591.00" fill="#7F7F7F"/>
<polygon points="155.00,591.50 159.50,591.80 161.70,596.00 156.00,596.00" fill="#7F7F7F"/>
<polygon points="150.00,592.50 151.20,592.50 152.50,596.50 151.00,596.50" fill="#7F7F7F"/>
<polygon points="172.10,594.40 176.00,594.50 176.70,596.00 172.50,596.00" fill="#7F7F7F"/>
<polygon points="165.00,595.50 167.20,595.50 167.20,596.60 165.00,596.60" fill="#7F7F7F"/>
<polygon points="152.10,600.00 153.50,600.00 155.00,604.60 153.50,604.60" fill="#7F7F7F"/>
<polygon points="157.90,600.00 163.00,600.00 164.20,605.20 158.50,605.20" fill="#7F7F7F"/>
<polygon points="167.10,600.00 168.50,600.00 172.50,605.80 168.50,605.80" fill="#7F7F7F"/>
<polygon points="174.20,599.00 178.70,599.00 178.00,602.00 174.50,602.00" fill="#7F7F7F"/>
<polygon points="160.80,608.60 165.00,608.80 165.40,611.30 161.50,611.30" fill="#7F7F7F"/>
<polygon points="169.20,609.00 171.70,609.00 171.20,610.50 169.50,610.50" fill="#7F7F7F"/>
<polygon points="152.50,534.60 157.20,532.00 158.30,532.60 153.60,535.20" fill="#FF0000"/>
<polygon points="152.00,540.80 158.00,541.50 158.50,543.00 152.50,542.50" fill="#FF0000"/>
<polygon points="150.80,547.10 158.80,552.90 151.40,552.00" fill="#FF0000"/>
<polygon points="157.00,545.80 158.50,545.80 159.00,547.30" fill="#FF0000"/>
<polygon points="152.00,555.80 158.80,556.50 158.80,558.20 152.50,557.50" fill="#FF0000"/>
<polygon points="158.00,561.50 160.00,561.50 159.50,563.00" fill="#FF0000"/>
<text transform="translate(204.20,571.00) scale(1,1.035)" font-size="31.8" fill="#7F7F7F" stroke="#7F7F7F" font-family='"Liberation Sans", sans-serif'>Degradation</text>
</svg>
</body></html>
